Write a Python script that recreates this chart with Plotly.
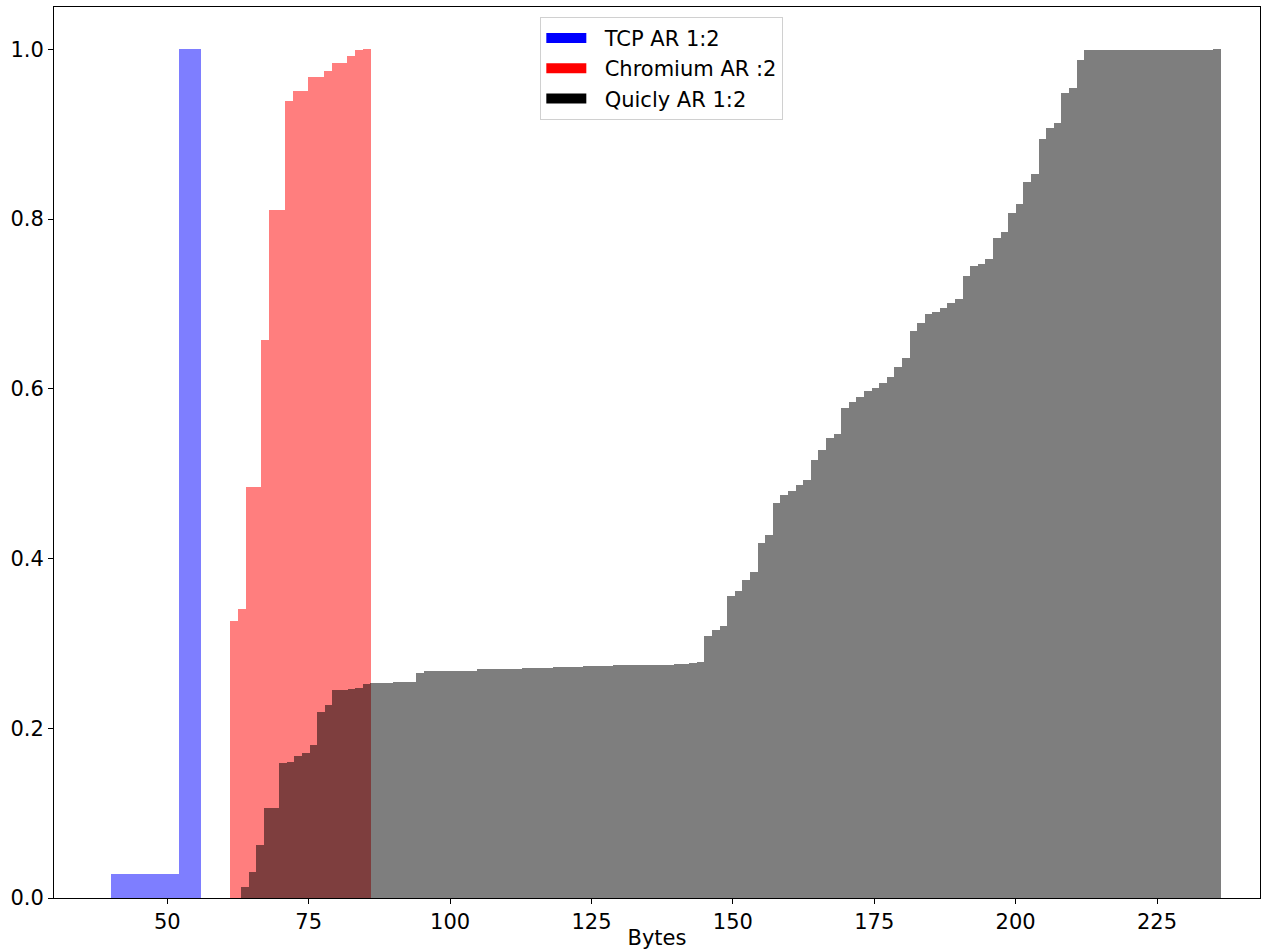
import numpy as np
import plotly.graph_objects as go

# ---- data (cumulative fractions per histogram bin) ----
tcp_name = "TCP AR 1:2"
tcp_range = [40.05, 56.01]
tcp_cdf = [0.0283, 0.0283, 0.0283, 0.0283, 0.0283, 0.0283, 0.0283, 0.0283, 0.0283,
           1.0, 1.0, 1.0]

chromium_name = "Chromium AR :2"
chromium_range = [61.09, 86.01]
chromium_cdf = [0.326, 0.340, 0.484, 0.484, 0.657, 0.811, 0.811, 0.939, 0.951,
                0.951, 0.968, 0.968, 0.975, 0.984, 0.984, 0.992, 0.999, 1.0]

quicly_name = "Quicly AR 1:2"
quicly_range = [63.08, 236.28]
quicly_cdf = [
    0.013, 0.031, 0.062, 0.106, 0.106, 0.159, 0.160, 0.167, 0.171, 0.180,
    0.219, 0.228, 0.245, 0.245, 0.246, 0.247, 0.252, 0.253, 0.253, 0.253,
    0.254, 0.254, 0.254, 0.265, 0.267, 0.267, 0.268, 0.268, 0.268, 0.268,
    0.268, 0.2697, 0.2697, 0.2697, 0.2704, 0.2704, 0.2704, 0.2712, 0.2712, 0.2712,
    0.2712, 0.2724, 0.2724, 0.2724, 0.2724, 0.2736, 0.2736, 0.2736, 0.2736, 0.2744,
    0.2744, 0.2744, 0.2751, 0.2751, 0.2751, 0.2751, 0.2751, 0.2759, 0.2759, 0.2771,
    0.2785, 0.309, 0.316, 0.321, 0.356, 0.362, 0.375, 0.384, 0.418, 0.428,
    0.465, 0.475, 0.480, 0.487, 0.493, 0.516, 0.528, 0.542, 0.547, 0.577,
    0.585, 0.590, 0.597, 0.601, 0.607, 0.614, 0.626, 0.636, 0.668, 0.678,
    0.688, 0.690, 0.695, 0.701, 0.706, 0.733, 0.745, 0.747, 0.753, 0.778,
    0.785, 0.807, 0.818, 0.844, 0.853, 0.895, 0.907, 0.913, 0.949, 0.954,
    0.988, 0.9988, 0.9988, 0.9988, 0.9988, 0.9988, 0.9988, 0.9988, 0.9988, 0.9988,
    0.9988, 0.9988, 0.9994, 0.9994, 0.9994, 0.9994, 0.9994, 0.9994, 1.0,
]

x_ticks = [50, 75, 100, 125, 150, 175, 200, 225]
y_ticks = [0.0, 0.2, 0.4, 0.6, 0.8, 1.0]
x_label = "Bytes"

FONT = "DejaVu Sans"
FS = 21

fig = go.Figure()


def add_hist(rng, cdf, color, name):
    n = len(cdf)
    edges = np.linspace(rng[0], rng[1], n + 1)
    w = edges[1] - edges[0]
    fig.add_trace(go.Bar(
        x=edges[:-1], y=cdf, width=[w] * n, offset=0,
        marker=dict(color=color, line=dict(width=0)),
        opacity=0.5, showlegend=False, name=name, hoverinfo="x+y",
    ))


add_hist(tcp_range, tcp_cdf, "blue", tcp_name)
add_hist(chromium_range, chromium_cdf, "red", chromium_name)
add_hist(quicly_range, quicly_cdf, "black", quicly_name)

# legend proxies (full colour patches)
for nm, col in [(tcp_name, "blue"), (chromium_name, "red"), (quicly_name, "black")]:
    fig.add_trace(go.Scatter(x=[None], y=[None], mode="lines",
                             line=dict(color=col, width=14),
                             name="\u00a0\u00a0" + nm, showlegend=True))

axis_common = dict(
    showline=True, linecolor="black", linewidth=1, mirror=True,
    ticks="outside", ticklen=5, tickwidth=1, tickcolor="black",
    showgrid=False, zeroline=False, automargin=False,
    tickfont=dict(family=FONT, size=FS, color="black"),
)

fig.update_layout(
    width=1261, height=950,
    margin=dict(l=54, r=1, t=7, b=52),
    paper_bgcolor="white", plot_bgcolor="white",
    barmode="overlay", bargap=0,
    font=dict(family=FONT, size=FS, color="black"),
    xaxis=dict(range=[29.97, 243.2], tickvals=x_ticks,
               title=dict(text=x_label, font=dict(family=FONT, size=FS), standoff=0),
               **axis_common),
    yaxis=dict(range=[0, 1.05], tickvals=y_ticks, tickformat=".1f", **axis_common),
    legend=dict(x=0.504, xanchor="center", y=0.989, yanchor="top",
                bgcolor="rgba(255,255,255,0.8)", bordercolor="#d0d0d0", borderwidth=1,
                font=dict(family=FONT, size=FS, color="black"),
                itemwidth=40),
)

fig.write_html(
    "out.html",
    config={"displayModeBar": False},
    post_script="document.body.style.margin='0';document.body.style.overflow='hidden';",
)
